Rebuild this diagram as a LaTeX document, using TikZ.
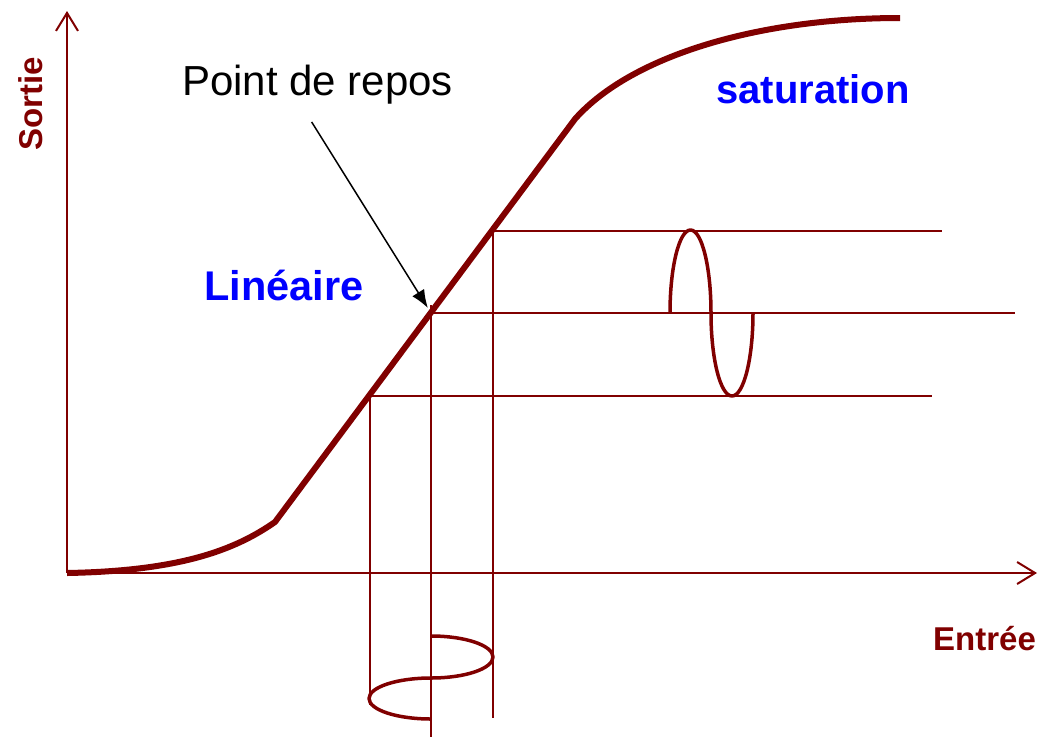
\documentclass[tikz,border=0pt]{standalone}
\usepackage{fontspec}
\setmainfont{Liberation Sans}
\usetikzlibrary{arrows.meta}
\definecolor{maroon}{RGB}{128,0,0}
\tikzset{
    axis/.style={draw=maroon, line width=2pt, -{Straight Barb[length=18pt, width=22pt, line width=2pt]}},
    curve/.style={draw=maroon, line width=6pt, line join=round},
    guide/.style={draw=maroon, line width=1.2pt},
    sine/.style={draw=maroon, line width=3.5pt, line join=round},
    pointer/.style={draw=black, line width=1.5pt, -{Latex[length=18pt, width=14pt]}},
    axislabel/.style={text=maroon, font=\fontsize{33}{40}\selectfont\bfseries, inner sep=0pt},
    zonelabel/.style={text=blue, font=\fontsize{40}{48}\selectfont\bfseries, inner sep=0pt},
    notelabel/.style={text=black, font=\fontsize{42}{50}\selectfont, inner sep=0pt}
}
\begin{document}
\begin{tikzpicture}[x=1pt, y=-1pt]
    \useasboundingbox (0,0) rectangle (1041,737);
    % Axes
    \coordinate (O) at (67,573);
    \coordinate (xend) at (1037,573);
    \coordinate (yend) at (67,11);
    \draw [axis] (O) -- (xend);
    \draw [axis] (O) -- (yend);

    % Operating point and swing limits
    \coordinate (Q) at (431,313);
    \coordinate (lo) at (370,396);
    \coordinate (hi) at (493,231);

    % Guide lines
    \draw [guide] (hi) -- (942,231);
    \draw [guide] (Q) -- (1015,313);
    \draw [guide] (lo) -- (932,396);
    \draw [guide] (lo) -- (370,705);
    \draw [guide] (431,305) -- (431,737);
    \draw [guide] (hi) -- (493,718);

    % Transfer curve
    \draw [curve] (O) .. controls (180,571) and (235,550) .. (275,522)
        -- (575,119) .. controls (632,55) and (760,18) .. (900,18);

    % Output signal
    \draw [sine] (670,313) arc[start angle=180, end angle=0, x radius=20.5pt, y radius=83pt]
        arc[start angle=180, end angle=360, x radius=21pt, y radius=83pt];
    % Input signal
    \draw [sine] (431,636) arc[start angle=90, end angle=-90, x radius=62pt, y radius=21pt]
        arc[start angle=90, end angle=270, x radius=62pt, y radius=20.5pt];

    % Labels
    \node [axislabel, rotate=90, anchor=base west] (sortie) at (42,151) {Sortie};
    \node [axislabel, anchor=base west] (entree) at (933,650) {Entrée};
    \node [zonelabel, anchor=base west, font=\fontsize{41.5}{48}\selectfont\bfseries] (lineaire) at (204,300) {Linéaire};
    \node [zonelabel, anchor=base west] (saturation) at (716,103) {saturation};
    \node [notelabel, anchor=base west] (repos) at (182,95) {Point de repos};

    \draw [pointer, shorten >=6pt] ([xshift=-6pt, yshift=-18pt]repos.south) -- (Q);
\end{tikzpicture}
\end{document}
